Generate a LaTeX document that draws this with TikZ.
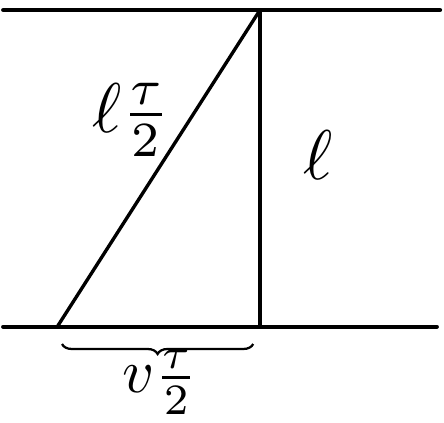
\documentclass[tikz,border=0pt]{standalone}
\usepackage{amsmath,amssymb}
\usepackage{tikz}
\usetikzlibrary{positioning,decorations.pathreplacing}

\begin{document}
\begin{tikzpicture}[
  mirrorline/.style={draw=black, line width=3pt, line cap=round},
  pathline/.style={draw=black, line width=2.4pt, line cap=round},
  lenlabel/.style={inner sep=0pt, scale=5},
  baselabel/.style={inner sep=0pt, scale=4.4},
  spanbrace/.style={decorate, decoration={brace, mirror, amplitude=0.25cm}, line width=1.6pt}
]
  \useasboundingbox (0,0) rectangle (11.1,10.55);
  % mirrors
  \coordinate (topL) at (0.08,10.3);
  \coordinate (topR) at (11.0,10.3);
  \coordinate (botL) at (0.08,2.38);
  \coordinate (botR) at (10.92,2.38);
  \draw[mirrorline] (topL) -- (topR);
  \draw[mirrorline] (botL) -- (botR);
  % light path
  \coordinate (apex) at (6.5,10.3);
  \coordinate (foot) at (6.5,2.38);
  \coordinate (start) at (1.43,2.38);
  \draw[pathline] (apex) -- (foot);
  \draw[pathline] (start) -- (apex);
  % brace under the base
  \coordinate (brL) at (1.55,1.95);
  \coordinate (brR) at (6.33,1.95);
  \draw[spanbrace] (brL) -- (brR);
  % labels
  \node[lenlabel] (hyp) at (3.28,7.55) {$\ell\frac{\tau}{2}$};
  \node[lenlabel] (height) at (7.95,6.68) {$\ell$};
  \node[baselabel] (base) at (4.0,1.0) {$v\frac{\tau}{2}$};
\end{tikzpicture}
\end{document}
